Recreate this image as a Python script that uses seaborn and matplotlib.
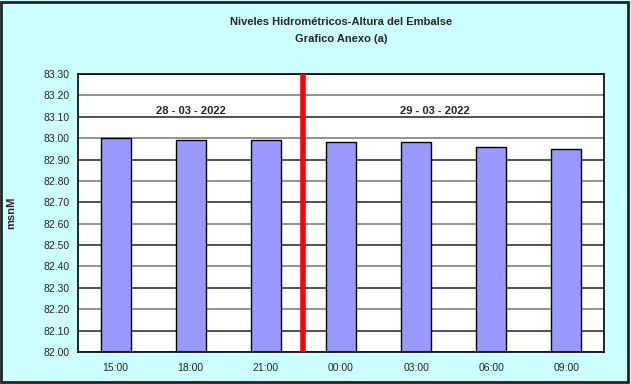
import matplotlib
matplotlib.use("Agg")
import matplotlib.pyplot as plt
import seaborn as sns
import numpy as np
import pandas as pd
from matplotlib.patches import Rectangle

hours = ["15:00", "18:00", "21:00", "00:00", "03:00", "06:00", "09:00"]
levels = [83.00, 82.99, 82.99, 82.98, 82.98, 82.96, 82.95]
dates = ["28 - 03 - 2022", "29 - 03 - 2022"]
y_ticks = [82.0, 82.1, 82.2, 82.3, 82.4, 82.5, 82.6, 82.7, 82.8, 82.9, 83.0, 83.1, 83.2, 83.3]

sns.set_style("white")
plt.rcParams['font.family'] = ['Liberation Sans', 'DejaVu Sans']

df = pd.DataFrame({"hora": hours, "nivel": levels})

fig = plt.figure(figsize=(6.31, 3.84), dpi=100)
fig.patch.set_facecolor("#CCFFFF")
ax = fig.add_axes([78/631, 1-352/384, (604-78)/631, (352-74)/384])
ax.set_facecolor("white")

for i, t in enumerate(y_ticks):
    ax.axhline(t, color="#333333" if i % 2 == 1 else "#808080", lw=1.2, zorder=0)

sns.barplot(data=df, x="hora", y="nivel", ax=ax, color="#9999FF", width=0.4,
            edgecolor="black", linewidth=1.0, saturation=1, zorder=2)

ax.set_ylim(82.0, 83.3)
ax.set_xlim(-0.5, len(hours)-0.5)
ax.set_yticks(y_ticks)
ax.set_yticklabels([f"{t:.2f}" for t in y_ticks], fontsize=7.5)
ax.set_xticks(range(len(hours)))
ax.set_xticklabels(hours, fontsize=7.5)
ax.set_xticks(np.arange(-0.5, len(hours), 1), minor=True)
ax.tick_params(axis="x", which="major", length=0, pad=8)
ax.tick_params(axis="x", which="minor", length=4, width=1, direction="out", color="black")
ax.tick_params(axis="y", length=4, width=1, direction="out", color="black", pad=2)
ax.set_xlabel("")
ax.set_ylabel("msnM", fontsize=8, fontweight="bold")
ax.yaxis.set_label_coords(-0.118, 0.5)
for s in ax.spines.values():
    s.set_visible(True)
    s.set_color("black")
    s.set_linewidth(1.2)

ax.axvline(2.5, color="#FF0000", lw=4, zorder=3)
ax.text(1.0, 83.125, dates[0], ha="center", va="center", fontsize=8, fontweight="bold")
ax.text(4.25, 83.125, dates[1], ha="center", va="center", fontsize=8, fontweight="bold")

fig.text(341/631, 1-22/384, "Niveles Hidrométricos-Altura del Embalse", ha="center", va="center",
         fontsize=8, fontweight="bold")
fig.text(341/631, 1-39/384, "Grafico Anexo (a)", ha="center", va="center",
         fontsize=8, fontweight="bold")

fig.patches.append(Rectangle((0.002, 0.004), 0.993, 0.992, transform=fig.transFigure,
                             fill=False, edgecolor="#222222", lw=2))

fig.savefig("out.png", dpi=100, facecolor=fig.get_facecolor())
